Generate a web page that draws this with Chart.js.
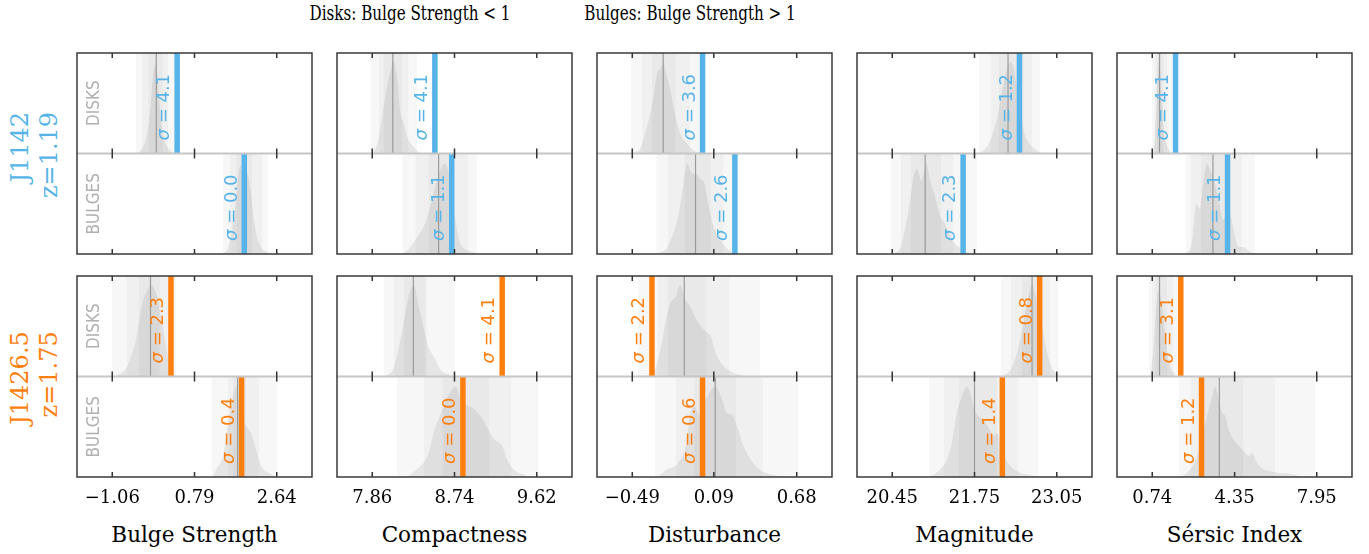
<!DOCTYPE html>
<html>
<head>
<meta charset="utf-8">
<script src="https://cdn.jsdelivr.net/npm/chart.js@4.4.1/dist/chart.umd.min.js"></script>
<style>
  body { margin: 0; background: #fff; }
  #fig { position: relative; width: 1369px; height: 554px; overflow: hidden; font-family: "DejaVu Serif", serif; color: #000; }
  .cell { position: absolute; }
  .title { position: absolute; top: 1px; font-size: 20.5px; line-height: 24px; white-space: nowrap; transform: translateX(-50%) scaleX(0.74); }
  .rowlab { position: absolute; font-size: 24px; line-height: 29px; text-align: right; white-space: nowrap; transform: translate(-50%, -50%) rotate(-90deg); }
  .xtitle { position: absolute; top: 523px; font-size: 21.5px; line-height: 24px; white-space: nowrap; transform: translateX(-50%); }
</style>
</head>
<body>
<div id="fig"></div>
<script>
// parameters (one column each)
const paramNames = ['Bulge Strength', 'Compactness', 'Disturbance', 'Magnitude', 'Sérsic Index'];
const tickValues = [[-1.06, 0.79, 2.64], [7.86, 8.74, 9.62], [-0.49, 0.09, 0.68], [20.45, 21.75, 23.05], [0.74, 4.35, 7.95]];
const tickLabels = [['−1.06', '0.79', '2.64'], ['7.86', '8.74', '9.62'], ['−0.49', '0.09', '0.68'], ['20.45', '21.75', '23.05'], ['0.74', '4.35', '7.95']];
const axisMin = [-1.853, 7.483, -0.741, 19.893, -0.805];
const axisMax = [3.433, 9.997, 0.931, 23.607, 9.495];

const galaxyNames = ['J1142', 'J1426.5'];
const galaxyRedshifts = ['z=1.19', 'z=1.75'];
const popLabels = ['DISKS', 'BULGES'];
const titles = ['Disks: Bulge Strength < 1', 'Bulges: Bulge Strength > 1'];

///////////////////
// J1142
///////////////////
const j1142DiskKdeX = [
  [-0.53, -0.39, -0.30, -0.21, -0.15, -0.10, -0.06, -0.01, 0.03, 0.10, 0.19, 0.30],
  [7.87, 7.93, 7.98, 8.04, 8.09, 8.13, 8.16, 8.20, 8.23, 8.29, 8.36],
  [-0.48, -0.43, -0.40, -0.37, -0.34, -0.31, -0.29, -0.27, -0.25, -0.22, -0.18, -0.15, -0.10, -0.05, 0.02],
  [21.82, 21.92, 22.00, 22.11, 22.19, 22.25, 22.32, 22.38, 22.45, 22.53, 22.61, 22.74, 22.84],
  [0.77, 0.84, 0.92, 0.99, 1.06, 1.14, 1.24, 1.36, 1.53]
];
const j1142DiskKdeY = [
  [0, 0.05, 0.15, 0.40, 0.75, 0.88, 0.85, 0.60, 0.35, 0.15, 0.06, 0.01],
  [0, 0.16, 0.46, 0.76, 0.91, 0.73, 0.41, 0.30, 0.18, 0.08, 0.01],
  [0, 0.06, 0.20, 0.35, 0.56, 0.81, 0.84, 0.91, 0.80, 0.63, 0.36, 0.20, 0.10, 0.03, 0],
  [0, 0.05, 0.13, 0.36, 0.63, 0.81, 0.91, 0.81, 0.50, 0.23, 0.11, 0.03, 0],
  [0, 0.13, 0.46, 0.83, 0.92, 0.63, 0.23, 0.10, 0.01]
];
const j1142DiskMedian = [-0.07, 8.08, -0.27, 22.28, 1.06];
const j1142DiskBands = [
  [[-0.53, 0.36], [-0.40, 0.20], [-0.25, 0.08]],
  [[7.84, 8.34], [7.93, 8.25], [7.98, 8.18]],
  [[-0.50, 0.00], [-0.42, -0.08], [-0.35, -0.18]],
  [[21.82, 22.79], [22.00, 22.66], [22.13, 22.53]],
  [[0.73, 1.61], [0.83, 1.41], [0.92, 1.24]]
];
const j1142DiskValue = [0.40, 8.53, 0.01, 22.46, 1.76];
const j1142DiskSigma = [4.1, 4.1, 3.6, 1.2, 4.1];

const j1142BulgeKdeX = [
  [1.42, 1.53, 1.62, 1.71, 1.78, 1.82, 1.89, 1.98, 2.05, 2.11, 2.18, 2.29, 2.47],
  [8.18, 8.27, 8.34, 8.41, 8.48, 8.55, 8.61, 8.64, 8.70, 8.75, 8.80, 8.91, 8.98],
  [-0.31, -0.24, -0.20, -0.16, -0.13, -0.10, -0.07, -0.03, -0.01, 0.02, 0.05, 0.09, 0.14, 0.18, 0.26],
  [20.47, 20.58, 20.66, 20.74, 20.79, 20.84, 20.91, 20.99, 21.05, 21.13, 21.21, 21.27, 21.34, 21.42, 21.53, 21.68],
  [2.19, 2.48, 2.67, 2.82, 2.99, 3.14, 3.28, 3.46, 3.65, 3.84, 4.09, 4.31, 4.53, 4.74, 5.04, 5.33]
];
const j1142BulgeKdeY = [
  [0, 0.05, 0.20, 0.50, 0.80, 0.88, 0.85, 0.80, 0.65, 0.40, 0.20, 0.07, 0.01],
  [0, 0.07, 0.17, 0.27, 0.47, 0.73, 0.88, 0.90, 0.70, 0.34, 0.11, 0.03, 0],
  [0, 0.07, 0.20, 0.40, 0.67, 0.90, 0.81, 0.79, 0.75, 0.72, 0.50, 0.27, 0.14, 0.06, 0],
  [0, 0.07, 0.27, 0.57, 0.78, 0.85, 0.73, 0.90, 0.73, 0.57, 0.37, 0.32, 0.22, 0.12, 0.06, 0.01],
  [0, 0.11, 0.50, 0.45, 0.73, 0.90, 0.83, 0.73, 0.54, 0.34, 0.44, 0.24, 0.07, 0.07, 0.02, 0]
];
const j1142BulgeMedian = [1.91, 8.57, -0.04, 20.97, 3.40];
const j1142BulgeBands = [
  [[1.42, 2.45], [1.58, 2.31], [1.73, 2.09]],
  [[8.18, 8.98], [8.32, 8.89], [8.46, 8.68]],
  [[-0.32, 0.26], [-0.24, 0.16], [-0.12, 0.07]],
  [[20.42, 21.79], [20.58, 21.42], [20.74, 21.23]],
  [[2.19, 5.26], [2.41, 4.67], [2.85, 3.94]]
];
const j1142BulgeValue = [1.91, 8.71, 0.24, 21.57, 4.04];
const j1142BulgeSigma = [0.0, 1.1, 2.6, 2.3, 1.1];

///////////////////
// J1426.5
///////////////////
const j1426DiskKdeX = [
  [-1.00, -0.73, -0.51, -0.40, -0.27, -0.18, -0.06, 0.05, 0.15, 0.23, 0.35],
  [8.00, 8.09, 8.14, 8.20, 8.25, 8.30, 8.36, 8.41, 8.46, 8.53, 8.59, 8.70],
  [-0.42, -0.33, -0.29, -0.24, -0.22, -0.18, -0.15, -0.11, -0.08, -0.03, 0.03, 0.07, 0.10, 0.15, 0.21, 0.30],
  [22.18, 22.32, 22.42, 22.50, 22.58, 22.66, 22.74, 22.82, 22.90, 22.98, 23.11],
  [0.65, 0.77, 0.87, 1.02, 1.17, 1.31, 1.41, 1.53, 1.75]
];
const j1426DiskKdeY = [
  [0, 0.10, 0.40, 0.70, 0.86, 0.91, 0.81, 0.56, 0.30, 0.10, 0.02],
  [0, 0.09, 0.27, 0.56, 0.80, 0.91, 0.70, 0.48, 0.30, 0.18, 0.07, 0.01],
  [0, 0.07, 0.27, 0.63, 0.73, 0.80, 0.91, 0.76, 0.70, 0.56, 0.45, 0.40, 0.25, 0.12, 0.05, 0.01],
  [0, 0.07, 0.23, 0.46, 0.73, 0.91, 0.75, 0.50, 0.23, 0.08, 0.01],
  [0, 0.23, 0.56, 0.86, 0.70, 0.40, 0.23, 0.10, 0.02]
];
const j1426DiskMedian = [-0.20, 8.30, -0.12, 22.66, 1.06];
const j1426DiskBands = [
  [[-1.07, 0.38], [-0.73, 0.20], [-0.47, 0.01]],
  [[7.98, 8.75], [8.09, 8.45], [8.20, 8.43]],
  [[-0.45, 0.42], [-0.31, 0.20], [-0.24, 0.04]],
  [[22.16, 23.08], [22.32, 22.95], [22.50, 22.79]],
  [[0.58, 1.97], [0.73, 1.68], [0.87, 1.39]]
];
const j1426DiskValue = [0.26, 9.25, -0.35, 22.78, 1.99];
const j1426DiskSigma = [2.3, 4.1, 2.2, 0.8, 3.1];

const j1426BulgeKdeX = [
  [1.20, 1.28, 1.43, 1.54, 1.64, 1.73, 1.84, 1.95, 2.06, 2.17, 2.29, 2.47, 2.62],
  [8.23, 8.34, 8.45, 8.53, 8.61, 8.68, 8.75, 8.82, 8.89, 8.96, 9.03, 9.09, 9.16, 9.25, 9.30, 9.37, 9.52],
  [-0.31, -0.24, -0.17, -0.11, -0.08, -0.05, -0.01, 0.04, 0.10, 0.15, 0.18, 0.22, 0.26, 0.30, 0.35, 0.41, 0.49, 0.59],
  [21.05, 21.21, 21.32, 21.39, 21.47, 21.55, 21.63, 21.68, 21.75, 21.81, 21.89, 21.97, 22.05, 22.11, 22.16, 22.26, 22.42, 22.63, 22.79],
  [2.04, 2.41, 2.70, 2.99, 3.21, 3.36, 3.50, 3.65, 3.80, 3.94, 4.09, 4.31, 4.53, 4.74, 4.96, 5.11, 5.33, 5.62, 6.06, 6.87, 7.23]
];
const j1426BulgeKdeY = [
  [0, 0.08, 0.21, 0.51, 0.77, 0.90, 0.64, 0.51, 0.44, 0.28, 0.11, 0.04, 0],
  [0, 0.08, 0.21, 0.48, 0.67, 0.82, 0.90, 0.74, 0.71, 0.67, 0.59, 0.49, 0.38, 0.31, 0.18, 0.08, 0.01],
  [0, 0.08, 0.13, 0.31, 0.61, 0.71, 0.61, 0.79, 0.90, 0.77, 0.64, 0.62, 0.49, 0.31, 0.18, 0.08, 0.03, 0],
  [0, 0.08, 0.18, 0.34, 0.64, 0.80, 0.90, 0.84, 0.67, 0.61, 0.57, 0.49, 0.41, 0.44, 0.31, 0.16, 0.06, 0.02, 0],
  [0, 0.08, 0.21, 0.47, 0.67, 0.80, 0.90, 0.77, 0.64, 0.61, 0.47, 0.37, 0.31, 0.26, 0.21, 0.24, 0.14, 0.08, 0.05, 0.03, 0]
];
const j1426BulgeMedian = [1.76, 8.83, 0.10, 21.75, 3.68];
const j1426BulgeBands = [
  [[1.17, 2.66], [1.54, 2.25], [1.65, 1.95]],
  [[8.12, 9.64], [8.41, 9.35], [8.61, 9.11]],
  [[-0.33, 0.69], [-0.18, 0.44], [-0.05, 0.25]],
  [[21.03, 22.76], [21.26, 22.45], [21.50, 22.11]],
  [[1.89, 7.88], [2.41, 6.13], [2.99, 4.74]]
];
const j1426BulgeValue = [1.85, 8.83, 0.01, 22.19, 2.90];
const j1426BulgeSigma = [0.4, 0.0, 0.6, 1.4, 1.2];

// styling / layout
const galaxyColors = ['#56B4E9', '#FF7F0E'];
const colLeft = [77, 337, 597, 857, 1117];
const rowTop = [53, 276];
const plotW = 235;
const cellH = 201;
const pad = 6;
const xAxisH = 34;

const populations = [
  [
    { kdeX: j1142DiskKdeX, kdeY: j1142DiskKdeY, median: j1142DiskMedian, bands: j1142DiskBands, value: j1142DiskValue, sigma: j1142DiskSigma },
    { kdeX: j1142BulgeKdeX, kdeY: j1142BulgeKdeY, median: j1142BulgeMedian, bands: j1142BulgeBands, value: j1142BulgeValue, sigma: j1142BulgeSigma }
  ],
  [
    { kdeX: j1426DiskKdeX, kdeY: j1426DiskKdeY, median: j1426DiskMedian, bands: j1426DiskBands, value: j1426DiskValue, sigma: j1426DiskSigma },
    { kdeX: j1426BulgeKdeX, kdeY: j1426BulgeKdeY, median: j1426BulgeMedian, bands: j1426BulgeBands, value: j1426BulgeValue, sigma: j1426BulgeSigma }
  ]
];

// frame, divider, inward ticks, sigma labels and DISKS/BULGES tags
const panelDecor = {
  id: 'panelDecor',
  afterDatasetsDraw(chart, args, opts) {
    const ctx = chart.ctx;
    const a = chart.chartArea;
    const xs = chart.scales.x;
    const ys = chart.scales.y;
    const mid = ys.getPixelForValue(1);
    ctx.save();

    ctx.strokeStyle = '#c6c6c6';
    ctx.lineWidth = 2;
    ctx.beginPath();
    ctx.moveTo(a.left, mid);
    ctx.lineTo(a.right, mid);
    ctx.stroke();

    ctx.strokeStyle = '#333';
    ctx.lineWidth = 1.5;
    opts.ticks.forEach(v => {
      const px = xs.getPixelForValue(v);
      ctx.beginPath();
      ctx.moveTo(px, a.top); ctx.lineTo(px, a.top + 5);
      ctx.moveTo(px, mid - 5); ctx.lineTo(px, mid + 5);
      ctx.moveTo(px, a.bottom - 5); ctx.lineTo(px, a.bottom);
      ctx.stroke();
    });

    ctx.strokeStyle = '#3a3a3a';
    ctx.lineWidth = 1.5;
    ctx.strokeRect(a.left, a.top, a.width, a.height);

    opts.panels.forEach((p, i) => {
      const base = 1 - i;
      const bottom = ys.getPixelForValue(base);
      const top = ys.getPixelForValue(base + 1);
      ctx.save();
      ctx.translate(xs.getPixelForValue(p.value) - 2.75 - 5, bottom - 13);
      ctx.rotate(-Math.PI / 2);
      ctx.fillStyle = opts.color;
      ctx.textAlign = 'left';
      ctx.textBaseline = 'alphabetic';
      ctx.font = 'italic 18px "DejaVu Sans"';
      ctx.fillText('σ', 0, 0);
      const w = ctx.measureText('σ').width;
      ctx.font = '18px "DejaVu Sans"';
      ctx.fillText(' = ' + p.sigma.toFixed(1), w, 0);
      ctx.restore();

      if (opts.showPop) {
        ctx.save();
        ctx.translate(a.left + 18, (top + bottom) / 2);
        ctx.rotate(-Math.PI / 2);
        ctx.fillStyle = '#b0b0b0';
        ctx.textAlign = 'center';
        ctx.textBaseline = 'middle';
        ctx.font = '17px "Liberation Sans Narrow", "DejaVu Sans Condensed", sans-serif';
        ctx.fillText(popLabels[i], 0, 0);
        ctx.restore();
      }
    });
    ctx.restore();
  }
};

function panelDatasets(pop, c, base, color) {
  const ds = [];
  ds.push({
    data: [{x: pop.value[c], y: base}, {x: pop.value[c], y: base + 1}],
    borderColor: color, borderWidth: 5.5, order: 0
  });
  ds.push({
    data: [{x: pop.median[c], y: base}, {x: pop.median[c], y: base + 1}],
    borderColor: '#9a9a9a', borderWidth: 1.2, order: 1
  });
  ds.push({
    data: pop.kdeX[c].map((x, i) => ({x: x, y: base + pop.kdeY[c][i]})),
    borderColor: 'transparent', borderWidth: 0,
    backgroundColor: 'rgba(0,0,0,0.075)', fill: {value: base},
    cubicInterpolationMode: 'monotone', order: 2
  });
  pop.bands[c].forEach(b => {
    ds.push({
      data: [{x: b[0], y: base + 1}, {x: b[1], y: base + 1}],
      borderColor: 'transparent', borderWidth: 0,
      backgroundColor: 'rgba(0,0,0,0.032)', fill: {value: base}, order: 3
    });
  });
  return ds;
}

const fig = document.getElementById('fig');

function makeCell(r, c) {
  const isBottom = r === rowTop.length - 1;
  const wrap = document.createElement('div');
  wrap.className = 'cell';
  wrap.style.left = (colLeft[c] - pad) + 'px';
  wrap.style.top = (rowTop[r] - pad) + 'px';
  const canvas = document.createElement('canvas');
  canvas.width = plotW + 2 * pad;
  canvas.height = cellH + 2 * pad + (isBottom ? xAxisH : 0);
  canvas.style.width = canvas.width + 'px';
  canvas.style.height = canvas.height + 'px';
  wrap.appendChild(canvas);
  fig.appendChild(wrap);

  const color = galaxyColors[r];
  const datasets = panelDatasets(populations[r][0], c, 1, color)
    .concat(panelDatasets(populations[r][1], c, 0, color));

  new Chart(canvas.getContext('2d'), {
    type: 'line',
    data: { datasets: datasets },
    options: {
      responsive: false,
      animation: false,
      devicePixelRatio: 1,
      layout: { padding: pad },
      elements: { point: { radius: 0 }, line: { tension: 0 } },
      plugins: {
        legend: { display: false },
        tooltip: { enabled: false },
        panelDecor: {
          ticks: tickValues[c],
          color: color,
          showPop: c === 0,
          panels: [
            { value: populations[r][0].value[c], sigma: populations[r][0].sigma[c] },
            { value: populations[r][1].value[c], sigma: populations[r][1].sigma[c] }
          ]
        }
      },
      scales: {
        x: {
          type: 'linear',
          min: axisMin[c],
          max: axisMax[c],
          display: isBottom,
          grid: { display: false },
          border: { display: false },
          afterBuildTicks: s => { s.ticks = tickValues[c].map(v => ({value: v})); },
          afterFit: s => { s.height = isBottom ? xAxisH : 0; },
          ticks: {
            color: '#000',
            font: { family: 'DejaVu Serif', size: 18 },
            padding: 3,
            maxRotation: 0,
            autoSkip: false,
            callback: (v, i) => tickLabels[c][i]
          }
        },
        y: { type: 'linear', min: 0, max: 2, display: false }
      }
    },
    plugins: [panelDecor]
  });
}

for (let r = 0; r < rowTop.length; r++) {
  for (let c = 0; c < paramNames.length; c++) {
    makeCell(r, c);
  }
}

// titles, row labels, axis titles
const titleX = [410, 690];
titles.forEach((t, i) => {
  const d = document.createElement('div');
  d.className = 'title';
  d.style.left = titleX[i] + 'px';
  d.textContent = t;
  fig.appendChild(d);
});

galaxyNames.forEach((g, r) => {
  const d = document.createElement('div');
  d.className = 'rowlab';
  d.style.left = '35px';
  d.style.top = (rowTop[r] + cellH / 2 + 1.5) + 'px';
  d.style.color = galaxyColors[r];
  d.innerHTML = g + '<br>' + galaxyRedshifts[r];
  fig.appendChild(d);
});

paramNames.forEach((p, c) => {
  const d = document.createElement('div');
  d.className = 'xtitle';
  d.style.left = (colLeft[c] + plotW / 2) + 'px';
  d.textContent = p;
  fig.appendChild(d);
});
</script>
</body>
</html>
